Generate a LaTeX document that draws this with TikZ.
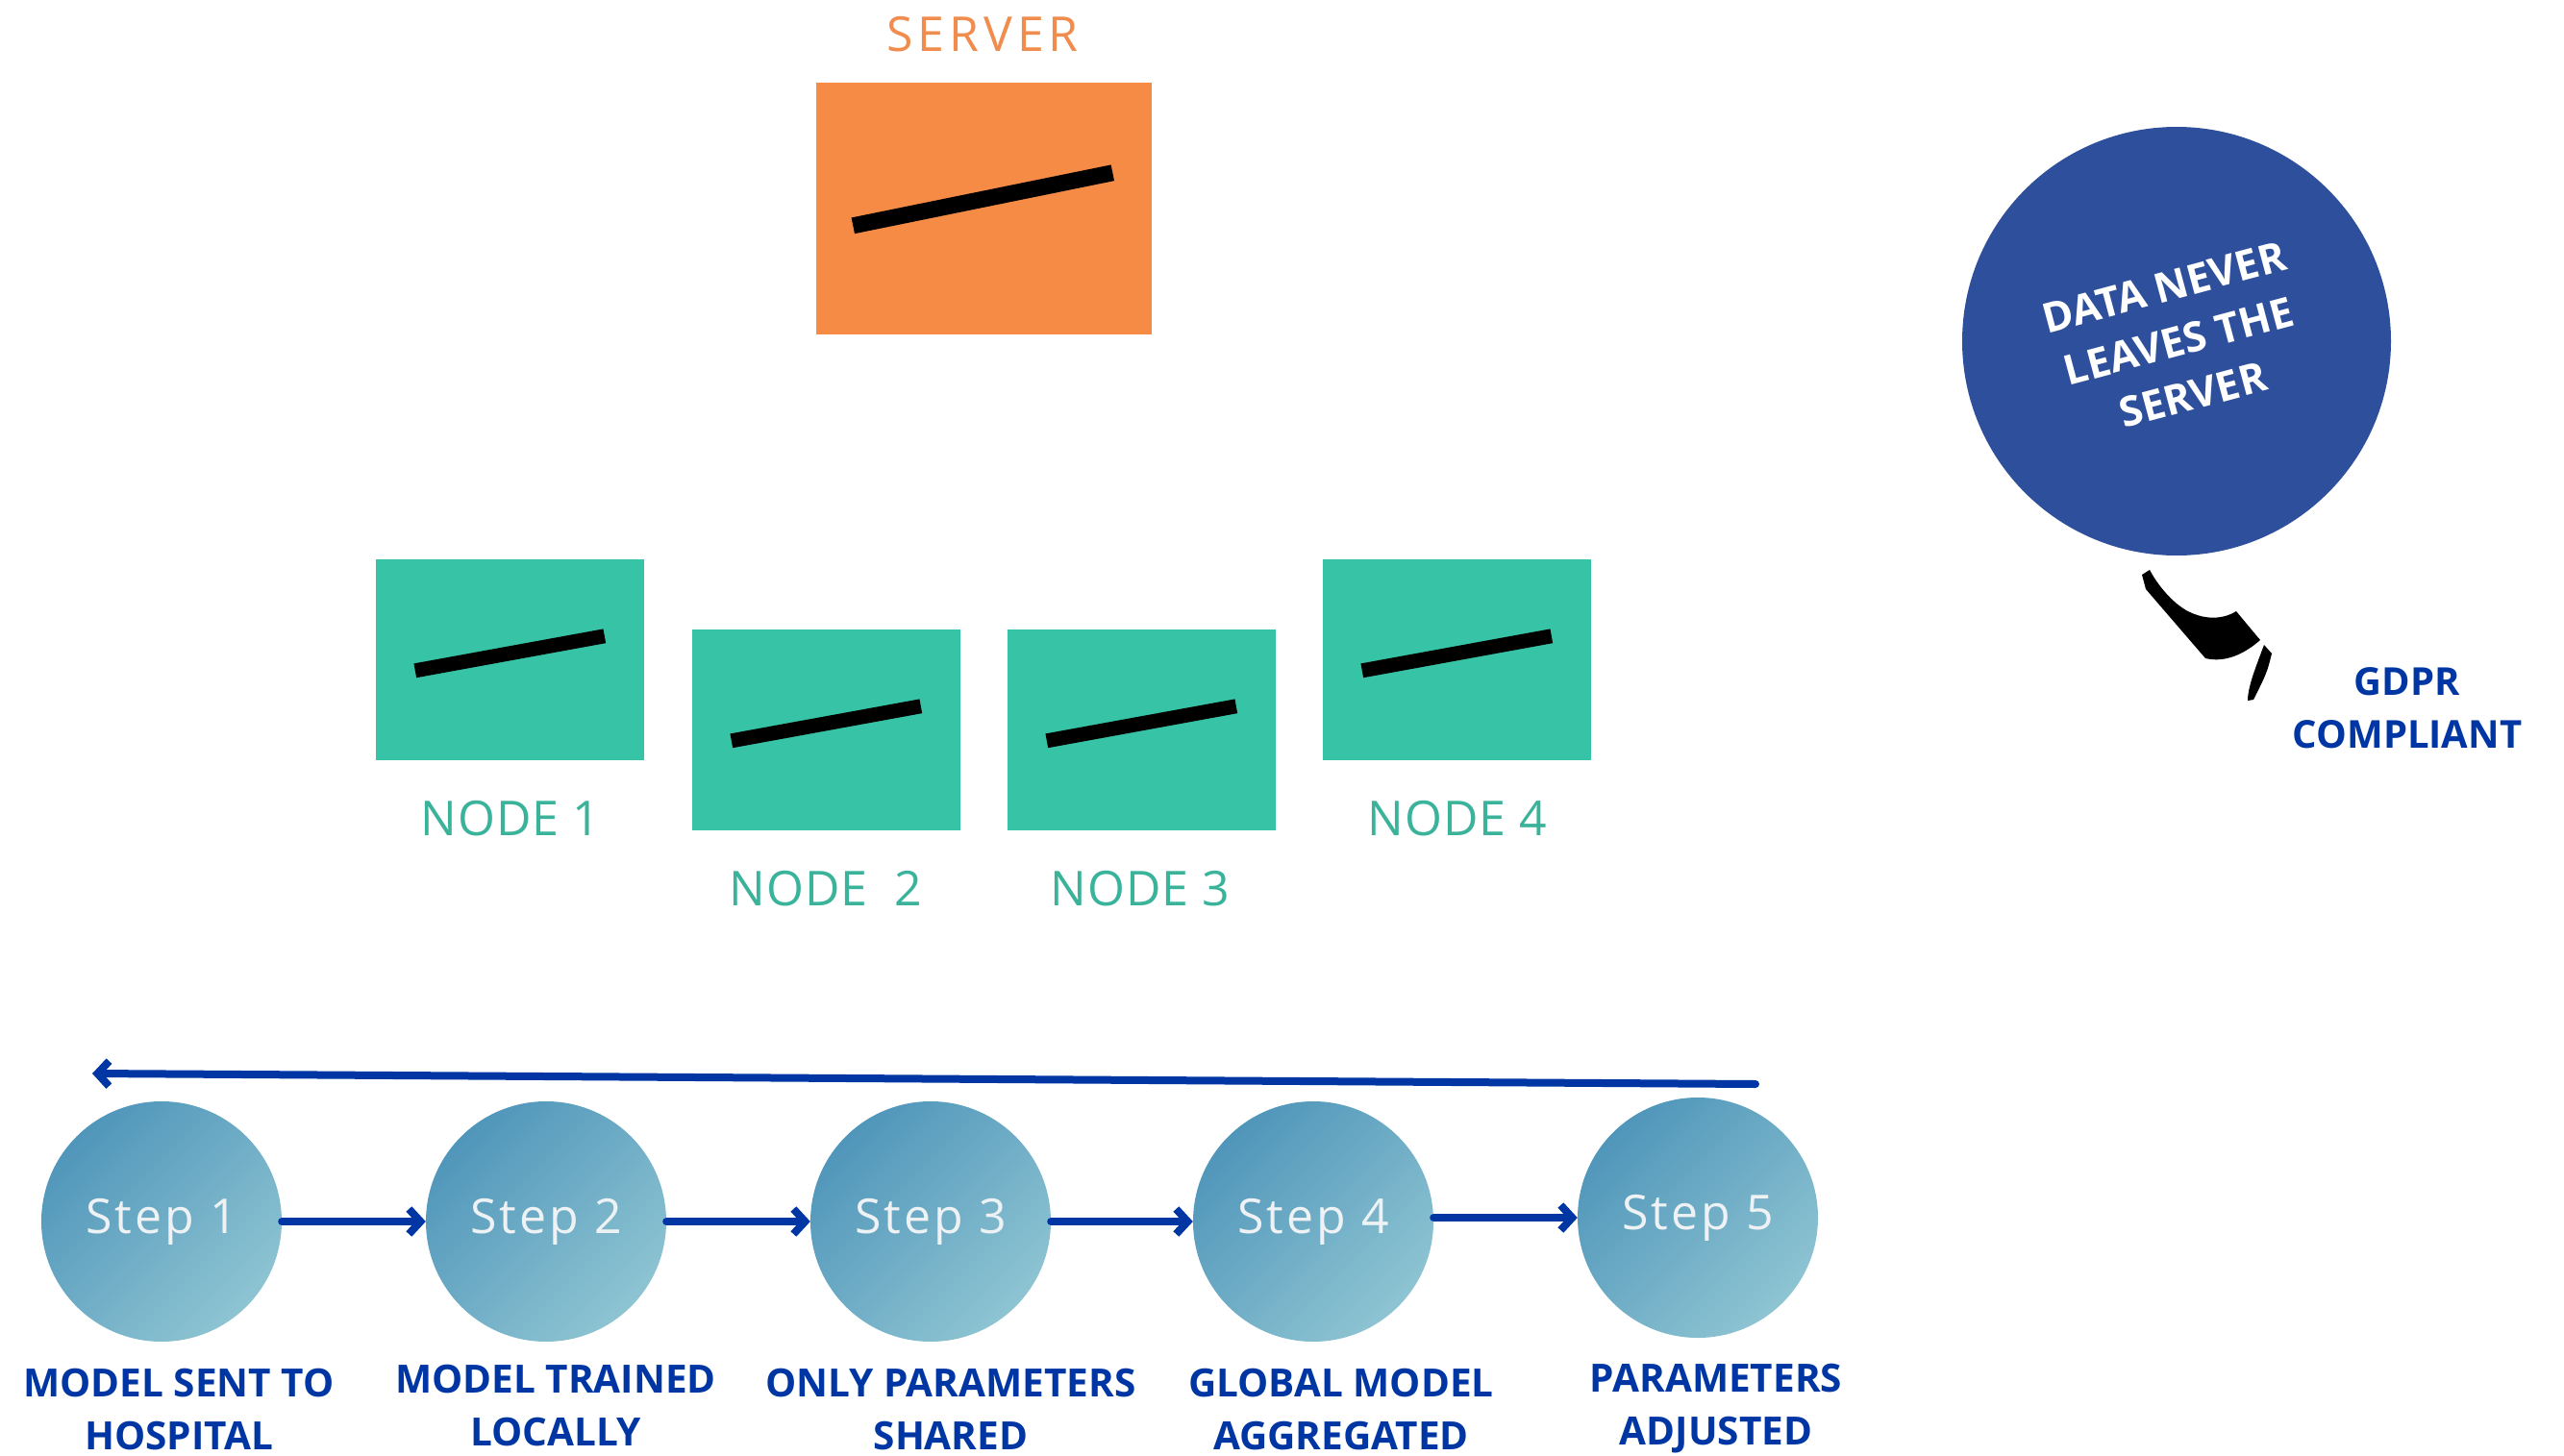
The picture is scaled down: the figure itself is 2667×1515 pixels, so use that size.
\documentclass[tikz,border=0pt]{standalone}
\usepackage{fontspec}
\setmainfont{Open Sans}
\newfontfamily\serverfont{Open Sans}[LetterSpace=10]
\newfontfamily\stepfont{Open Sans}[LetterSpace=6]
\newfontfamily\nodefont{Open Sans}[LetterSpace=2]
\usetikzlibrary{arrows.meta}
\definecolor{orangebox}{HTML}{F58B45}
\definecolor{orangetext}{HTML}{F08C4E}
\definecolor{tealbox}{HTML}{37C4A6}
\definecolor{tealtext}{HTML}{3AB39A}
\definecolor{circleblue}{HTML}{2E4F9B}
\definecolor{darkblue}{HTML}{0036A3}
\definecolor{stepA}{HTML}{5096BA}
\definecolor{stepB}{HTML}{8EC4D2}
\definecolor{steptext}{HTML}{EEF2F4}
\tikzset{
  serverbox/.style={fill=orangebox, minimum width=349, minimum height=262, inner sep=0},
  clientbox/.style={fill=tealbox, minimum width=279, minimum height=209, inner sep=0},
  bar/.style={line width=15, black},
  nodelabel/.style={text=tealtext, font=\nodefont\fontsize{50}{60}\selectfont, inner sep=0},
  stepcircle/.style={circle, minimum size=250, inner sep=0, shading=axis,
     top color=stepA, bottom color=stepB, shading angle=45,
     text=steptext, font=\stepfont\fontsize{50}{60}\selectfont},
  steplabel/.style={align=center, text=darkblue, inner sep=0,
     font=\bfseries\fontsize{40.5}{55}\selectfont},
  flow/.style={line width=8, darkblue, line cap=round, -{Straight Barb[length=12, width=26]}},
}
\begin{document}
\begin{tikzpicture}[x=1pt,y=-1pt]
\useasboundingbox (0,0) rectangle (2667,1515);

% server
\node[text=orangetext, font=\serverfont\fontsize{50}{60}\selectfont, inner sep=0] (serverlabel) at (1022,36) {SERVER};
\node[serverbox] (server) at (1023,217) {};
\draw[line width=17] ([shift={(39,149)}]server.north west) -- ([shift={(309,94)}]server.north west);

% clients
\node[clientbox] (n1) at (530.5,686.5) {};
\node[clientbox] (n2) at (859.5,759.5) {};
\node[clientbox] (n3) at (1187.5,759.5) {};
\node[clientbox] (n4) at (1515.5,686.5) {};
\foreach \n in {n1,n2,n3,n4}{
  \draw[bar] ([shift={(41,116)}]\n.north west) -- ([shift={(238,80)}]\n.north west);
}
\node[nodelabel] (l1) at (531,852) {NODE 1};
\node[nodelabel] (l2) at (859,925) {NODE\ \ 2};
\node[nodelabel] (l3) at (1186,925) {NODE 3};
\node[nodelabel] (l4) at (1516,852) {NODE 4};

% data never leaves
\node[circle, fill=circleblue, minimum size=446, inner sep=0] (privacy) at (2264,355) {};
\node[rotate=15, align=center, text=white, font=\bfseries\fontsize{43}{58}\selectfont, inner sep=0] (privacytext) at (2266,355) {DATA NEVER\\LEAVES THE\\SERVER};
\fill[black] (2228,598) -- (2236,593) .. controls (2245,610) and (2260,627) .. (2274,635)
  .. controls (2290,644) and (2310,646) .. (2326,636) -- (2351,666)
  .. controls (2335,680) and (2315,690) .. (2294,685) -- (2232,613) -- cycle;
\fill[black] (2355,671) -- (2363,680) .. controls (2358,700) .. (2344,728) -- (2338,729)
  .. controls (2338,715) and (2346,695) .. (2355,671) -- cycle;
\node[align=center, text=darkblue, font=\bfseries\fontsize{40}{55}\selectfont, inner sep=0] (gdpr) at (2504,737) {GDPR\\COMPLIANT};

% steps
\node[stepcircle] (s1) at (168,1271) {\raisebox{-3pt}{Step 1}};
\node[stepcircle] (s2) at (568,1271) {\raisebox{-3pt}{Step 2}};
\node[stepcircle] (s3) at (968,1271) {\raisebox{-3pt}{Step 3}};
\node[stepcircle] (s4) at (1366,1271) {\raisebox{-3pt}{Step 4}};
\node[stepcircle] (s5) at (1766,1267) {\raisebox{-3pt}{Step 5}};
\draw[flow] (s1.east) -- (s2.west);
\draw[flow] (s2.east) -- (s3.west);
\draw[flow] (s3.east) -- (s4.west);
\draw[flow] (s5.west -| s4.east) -- (s5.west);
\coordinate (loopstart) at (1826,1128);
\coordinate (loopend) at (96,1117);
\draw[flow] (loopstart) -- (loopend);

\node[steplabel] (t1) at (186,1466) {MODEL SENT TO\\HOSPITAL};
\node[steplabel] (t2) at (578,1462) {MODEL TRAINED\\LOCALLY};
\node[steplabel] (t3) at (989,1466) {ONLY PARAMETERS\\SHARED};
\node[steplabel] (t4) at (1395,1466) {GLOBAL MODEL\\AGGREGATED};
\node[steplabel] (t5) at (1785,1466) {PARAMETERS\\ADJUSTED};
\end{tikzpicture}
\end{document}
